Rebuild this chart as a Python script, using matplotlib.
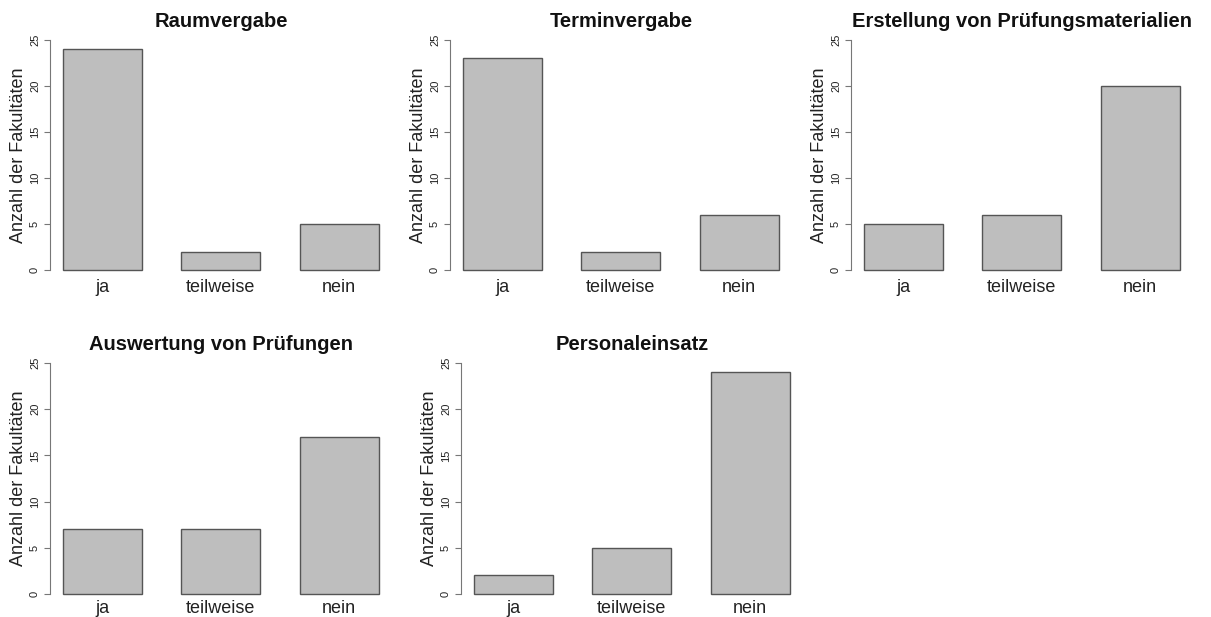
import matplotlib.pyplot as plt

plt.rcParams['font.family'] = ['Liberation Sans', 'DejaVu Sans']

# Daten
kategorien = ["ja", "teilweise", "nein"]
titel = ["Raumvergabe", "Terminvergabe", "Erstellung von Prüfungsmaterialien",
         "Auswertung von Prüfungen", "Personaleinsatz"]
raumvergabe = [24, 2, 5]
terminvergabe = [23, 2, 6]
pruefungsmaterialien = [5, 6, 20]
auswertung = [7, 7, 17]
personaleinsatz = [2, 5, 24]
werte = [raumvergabe, terminvergabe, pruefungsmaterialien, auswertung, personaleinsatz]

W, H = 1211, 617
fig = plt.figure(figsize=(W / 100, H / 100), dpi=100)

# Position der Achsen in Pixeln: (links, oben, unten)
pos = [(50.4, 30.8, 279.2), (450.4, 30.8, 279.2), (851.4, 30.8, 279.2),
       (50.4, 353.8, 603.2), (461.4, 353.8, 603.2)]
breite = 341

mitten = [1.0, 2.5, 4.0]

for i in range(5):
    l, o, u = pos[i]
    ax = fig.add_axes([l / W, 1 - u / H, breite / W, (u - o) / H])
    ax.bar(mitten, werte[i], width=1.0, color="#bebebe", edgecolor="#555555", linewidth=1.0)
    ax.set_xlim(0.34, 4.66)
    ax.set_ylim(-1, 26)
    for s in ["top", "right", "bottom"]:
        ax.spines[s].set_visible(False)
    ax.spines["left"].set_bounds(0, 25)
    ax.spines["left"].set_color("#777777")
    ax.set_yticks([0, 5, 10, 15, 20, 25])
    ax.set_yticklabels(["0", "5", "10", "15", "20", "25"], rotation=90, va="center")
    ax.tick_params(axis="y", length=4.5, color="#777777", labelsize=8, pad=3, labelcolor="#222222")
    ax.set_xticks(mitten)
    ax.set_xticklabels(kategorien)
    ax.tick_params(axis="x", length=0, labelsize=13, pad=(-0.5 if i < 3 else -2.5), labelcolor="#222222")
    ax.set_ylabel("Anzahl der Fakultäten", fontsize=13, color="#222222", labelpad=2)
    ax.set_title(titel[i], fontsize=14.5, fontweight="bold", pad=3, color="#111111")

plt.savefig("out.png", dpi=100)
plt.close()
